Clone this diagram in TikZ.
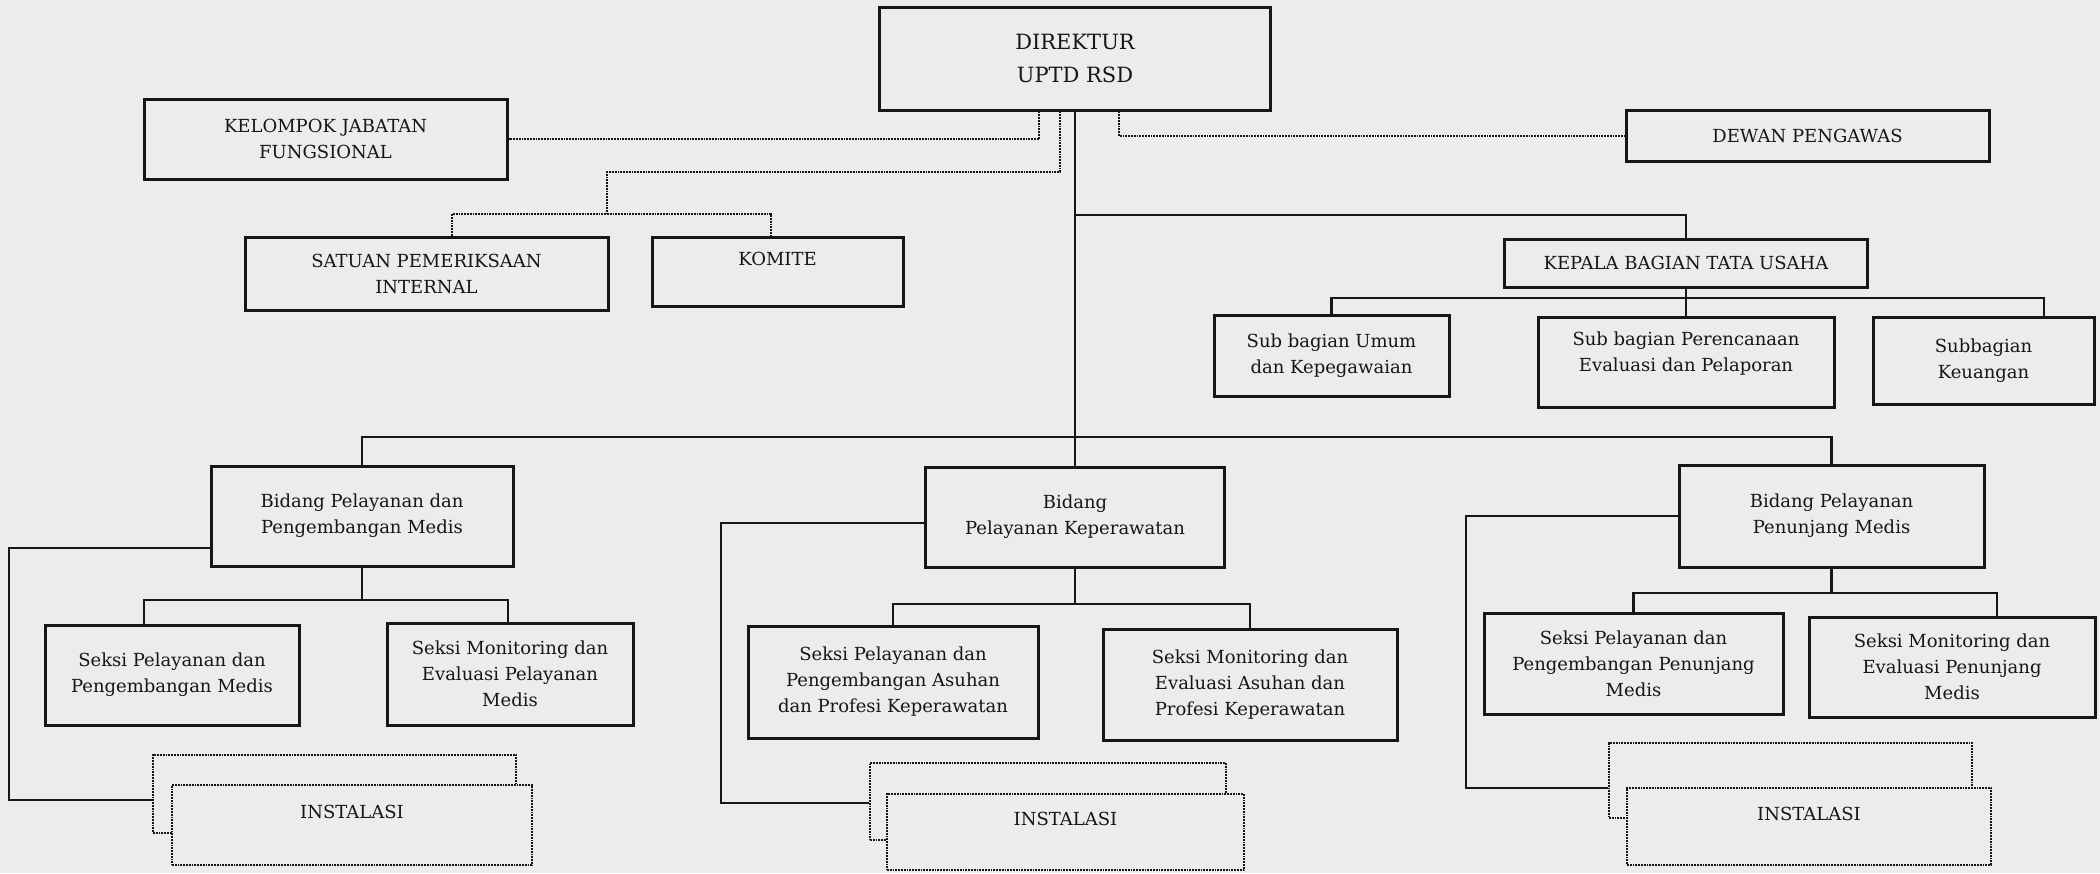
\documentclass[tikz,border=0pt]{standalone}
\usepackage{fontspec}
\setmainfont{DejaVu Serif}
\definecolor{paper}{RGB}{236,236,236}
\definecolor{ink}{RGB}{22,22,22}
\begin{document}
\begin{tikzpicture}[x=1pt,y=-1pt,
  box/.style={draw=ink, line width=3pt, align=center, inner sep=0pt, text=ink,
    font=\fontsize{18}{26}\selectfont},
  dotbox/.style={draw=ink, line width=2.2pt, dash pattern=on 1.8pt off 1pt, align=center,
    inner sep=0pt, text=ink, fill=paper, font=\fontsize{18}{26}\selectfont},
  link/.style={draw=ink, line width=2.7pt},
  dlink/.style={draw=ink, line width=2.2pt, dash pattern=on 1.8pt off 1pt}]
\useasboundingbox (0,0) rectangle (2100,873);
\fill[paper] (0,0) rectangle (2100,873);

% top level
\node[box, minimum width=391pt, minimum height=103pt, font=\fontsize{21}{33}\selectfont] (dir) at (1075,58.5) {DIREKTUR\\UPTD RSD};
\node[box, minimum width=363pt, minimum height=80pt] (kjf) at (325.5,139) {KELOMPOK JABATAN\\FUNGSIONAL};
\node[box, minimum width=363pt, minimum height=51pt] (dewan) at (1807.5,136) {DEWAN PENGAWAS};
\node[box, minimum width=363pt, minimum height=73pt] (spi) at (426.5,273.5) {SATUAN PEMERIKSAAN\\INTERNAL};
\node[box, minimum width=251pt, minimum height=69pt] (komite) at (777.5,271.5) {KOMITE\\\phantom{K}};
\node[box, minimum width=363pt, minimum height=48pt] (kabag) at (1686,263) {KEPALA BAGIAN TATA USAHA};
\node[box, minimum width=235pt, minimum height=81pt] (umum) at (1331.5,355.5) {Sub bagian Umum\\dan Kepegawaian};
\node[box, minimum width=296pt, minimum height=90pt] (renc) at (1686,362) {Sub bagian Perencanaan\\Evaluasi dan Pelaporan\\[-6pt]\phantom{x}};
\node[box, minimum width=221pt, minimum height=87pt] (keu) at (1983.5,360.5) {Subbagian\\Keuangan};

% bidang
\node[box, minimum width=302pt, minimum height=100pt] (bid1) at (362,516) {Bidang Pelayanan dan\\Pengembangan Medis};
\node[box, minimum width=299pt, minimum height=100pt] (bid2) at (1075,517) {Bidang\\Pelayanan Keperawatan};
\node[box, minimum width=305pt, minimum height=102pt] (bid3) at (1831.5,516) {Bidang Pelayanan\\Penunjang Medis};

% seksi
\node[box, minimum width=254pt, minimum height=100pt] (s11) at (172,675) {Seksi Pelayanan dan\\Pengembangan Medis};
\node[box, minimum width=246pt, minimum height=102pt] (s12) at (510,674) {Seksi Monitoring dan\\Evaluasi Pelayanan\\Medis};
\node[box, minimum width=290pt, minimum height=112pt] (s21) at (893,682) {Seksi Pelayanan dan\\Pengembangan Asuhan\\dan Profesi Keperawatan};
\node[box, minimum width=294pt, minimum height=111pt] (s22) at (1250,684.5) {Seksi Monitoring dan\\Evaluasi Asuhan dan\\Profesi Keperawatan};
\node[box, minimum width=299pt, minimum height=101pt] (s31) at (1633.5,663.5) {Seksi Pelayanan dan\\Pengembangan Penunjang\\Medis};
\node[box, minimum width=286pt, minimum height=100pt] (s32) at (1952,667) {Seksi Monitoring dan\\Evaluasi Penunjang\\Medis};

% instalasi (back and front)
\node[dotbox, minimum width=363pt, minimum height=78pt] (i1b) at (334.5,794) {};
\node[dotbox, minimum width=360pt, minimum height=80pt] (i1f) at (352,825) {INSTALASI\\\phantom{I}};
\node[dotbox, minimum width=356pt, minimum height=77pt] (i2b) at (1048,801.5) {};
\node[dotbox, minimum width=357pt, minimum height=76pt] (i2f) at (1065.5,832) {INSTALASI\\\phantom{I}};
\node[dotbox, minimum width=363pt, minimum height=75pt] (i3b) at (1790.5,780.5) {};
\node[dotbox, minimum width=364pt, minimum height=77pt] (i3f) at (1809,826.5) {INSTALASI\\\phantom{I}};

% junction coordinates
\coordinate (j1) at (1075,215);
\coordinate (bus) at (1075,437);
\coordinate (kb) at (1686,298);
\coordinate (sk1) at (607,172);
\coordinate (sk2) at (607,214);
\coordinate (b1) at (362,600);
\coordinate (b2) at (1075,604);
\coordinate (b3) at (1831.5,593);

% solid connectors
\draw[link] (dir.south) -- (bid2.north);
\draw[link] (j1) -| (kabag.north);
\draw[link] (bid1.north) |- (bus) -| (bid3.north);
\draw[link] (kabag.south) -- (renc.north);
\draw[link] (umum.north) |- (kb) -| ([xshift=60.5pt]keu.north);

% dotted connectors
\draw[dlink] ([xshift=-36pt]dir.south) |- (kjf.east);
\draw[dlink] ([xshift=-15pt]dir.south) |- (sk1) -- (sk2);
\draw[dlink] ([xshift=25.5pt]spi.north) |- (sk2) -| ([xshift=-6.5pt]komite.north);
\draw[dlink] ([xshift=44pt]dir.south) |- (dewan.west);

% bidang children
\draw[link] (bid1.south) -- (b1);
\draw[link] ([xshift=-28pt]s11.north) |- (b1) -| ([xshift=-2pt]s12.north);
\draw[link] ([yshift=-32pt]bid1.west) -| ([xshift=-143pt,yshift=-6pt]i1b.west) -- ([yshift=-6pt]i1b.west);

\draw[link] (bid2.south) -- (b2);
\draw[link] (s21.north) |- (b2) -| (s22.north);
\draw[link] ([yshift=-6pt]bid2.west) -| ([xshift=-148pt,yshift=-1.5pt]i2b.west) -- ([yshift=-1.5pt]i2b.west);

\draw[link] (bid3.south) -- (b3);
\draw[link] (s31.north) |- (b3) -| ([xshift=45pt]s32.north);
\draw[link] (bid3.west) -| ([xshift=-142pt,yshift=-7.5pt]i3b.west) -- ([yshift=-7.5pt]i3b.west);
\end{tikzpicture}
\end{document}
